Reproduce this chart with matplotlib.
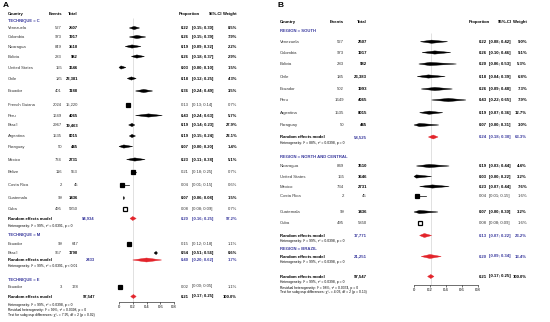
import matplotlib
matplotlib.use("Agg")
import matplotlib.pyplot as plt
from matplotlib.patches import Polygon

plt.rcParams['font.family'] = ['Liberation Sans', 'DejaVu Sans']

BLUE = '#3a3a9e'
RED = '#e3242b'
GREY = '#333333'

# ---------------- panel A : by technique ----------------
a_country = ["Venezuela", "Colombia", "Nicaragua", "Bolivia", "United States", "Chile",
             "Ecuador", "French Guiana", "Peru", "Brazil", "Argentina", "Paraguay",
             "Mexico", "Belize", "Costa Rica", "Guatemala", "Cuba",
             "Ecuador", "Brazil",
             "Ecuador"]
a_group = ["C"] * 17 + ["M"] * 2 + ["E"]
a_events = ["527", "973", "849", "283", "155", "185", "401", "2024", "1649", "2967", "1535",
            "50", "734", "116", "2", "99", "495", "99", "957", "3"]
a_total = ["2507", "1917", "3510", "982", "3646", "23,381", "1188", "15,220", "4065", "19,463",
           "8015", "445", "2731", "553", "45", "1436", "5850", "647", "1790", "178"]
a_prop = [0.22, 0.26, 0.19, 0.26, 0.03, 0.18, 0.36, 0.13, 0.43, 0.19, 0.19, 0.07, 0.23,
          0.21, 0.04, 0.07, 0.08, 0.15, 0.54, 0.02]
a_lo = [0.15, 0.15, 0.09, 0.18, 0.00, 0.12, 0.24, 0.13, 0.24, 0.14, 0.15, 0.00, 0.11,
        0.18, 0.01, 0.06, 0.08, 0.12, 0.51, 0.00]
a_hi = [0.30, 0.39, 0.32, 0.37, 0.10, 0.25, 0.49, 0.14, 0.63, 0.23, 0.24, 0.20, 0.38,
        0.25, 0.15, 0.08, 0.09, 0.18, 0.56, 0.05]
a_weight = ["8.5%", "7.9%", "2.2%", "2.9%", "1.5%", "4.3%", "3.5%", "0.7%", "5.7%", "27.9%",
            "22.1%", "1.4%", "5.1%", "0.7%", "0.6%", "1.5%", "0.7%", "1.1%", "0.6%", "1.1%"]
a_groups = ["C", "M", "E"]
a_group_titles = ["TECHNIQUE = C", "TECHNIQUE = M", "TECHNIQUE = E"]
a_re_n = ["94,934", "2433", None]
a_re_prop = [0.20, 0.40, None]
a_re_lo = [0.16, 0.20, None]
a_re_hi = [0.25, 0.62, None]
a_re_weight = ["97.2%", "1.7%", None]
a_re_het = ["Heterogeneity: I² = 99%, τ² = 0.0391, p = 0",
            "Heterogeneity: I² = 99%, τ² = 0.0391, p < 0.01", None]
a_all = ("97,547", 0.21, 0.17, 0.25, "100.0%")
a_all_text = ["Heterogeneity: I² = 99%, τ² = 0.0398, p = 0",
              "Residual heterogeneity: I² = 99%, τ² = 0.0398, p = 0",
              "Test for subgroup differences: χ²₂ = 7.95, df = 2 (p = 0.02)"]

# ---------------- panel B : by region ----------------
b_country = ["Venezuela", "Colombia", "Bolivia", "Chile", "Ecuador", "Peru", "Argentina",
             "Paraguay",
             "Nicaragua", "United States", "Mexico", "Costa Rica", "Guatemala", "Cuba"]
b_group = ["S"] * 8 + ["N"] * 6
b_events = ["527", "973", "283", "185", "502", "1649", "1535", "50",
            "849", "155", "734", "2", "99", "495"]
b_total = ["2507", "1917", "982", "23,383", "1993", "4065", "8015", "445",
           "3510", "3646", "2731", "45", "1436", "5850"]
b_prop = [0.22, 0.26, 0.20, 0.18, 0.26, 0.43, 0.19, 0.07, 0.19, 0.03, 0.23, 0.04, 0.07, 0.08]
b_lo = [0.08, 0.10, 0.06, 0.04, 0.09, 0.22, 0.07, 0.00, 0.03, 0.00, 0.07, 0.01, 0.00, 0.08]
b_hi = [0.42, 0.46, 0.53, 0.39, 0.48, 0.65, 0.36, 0.31, 0.44, 0.22, 0.44, 0.15, 0.30, 0.09]
b_weight = ["9.0%", "9.1%", "5.3%", "6.8%", "7.3%", "7.9%", "12.7%", "3.0%",
            "4.4%", "3.2%", "7.6%", "1.6%", "3.2%", "1.6%"]
b_groups = ["S", "N", "BR"]
b_group_titles = ["REGION = SOUTH", "REGION = NORTH AND CENTRAL", "REGION = BRAZIL"]
b_re_n = ["58,525", "17,771", "21,251"]
b_re_prop = [0.24, 0.13, 0.20]
b_re_lo = [0.18, 0.07, 0.09]
b_re_hi = [0.30, 0.22, 0.34]
b_re_weight = ["63.3%", "23.2%", "13.4%"]
b_re_het = ["Heterogeneity: I² = 88%, τ² = 0.0398, p = 0",
            "Heterogeneity: I² = 99%, τ² = 0.0398, p = 0",
            "Heterogeneity: I² = 99%, τ² = 0.0398, p = 0"]
b_all = ("97,547", 0.21, 0.17, 0.25, "100.0%")
b_all_text = ["Heterogeneity: I² = 99%, τ² = 0.0398, p = 0",
              "Residual heterogeneity: I² = 98%, τ² = 0.0374, p = 0",
              "Test for subgroup differences: χ²₂ = 4.03, df = 2 (p = 0.13)"]

ticks = [0, 0.2, 0.4, 0.6, 0.8]
tick_labels = ["0", "0.2", "0.4", "0.6", "0.8"]

# layout (pixel rows) and marker styles
lay_a = dict(letter=(3, 5), head=14, x_country=8, x_ev=62, x_tot=78, x_re_n=95, x_prop=189,
             x_ci=192, x_w=237, x_head_prop=179, x_head_ci=222, plot=(119, 174), axis_y=302,
             ref_top=18, fs=3.0, fs_het=2.4, h=1.6,
             titles=[21, 235, 279.5],
             rows=[28, 37, 46.5, 56.5, 67.5, 78.5, 91, 105, 115.5, 125, 136, 146.5, 159.5,
                   171.5, 185, 198, 208.5, 243.5, 253, 286.5],
             re=[218.5, 260, None], het=[225.5, 266, None],
             total=296.5, total_text=[305, 310, 315])
lay_b = dict(letter=(277, 5), head=22, x_country=280, x_ev=344, x_tot=367, x_re_n=367,
             x_prop=487, x_ci=489, x_w=527, x_head_prop=469, x_head_ci=512, plot=(414, 478),
             axis_y=284.5, ref_top=33, fs=3.1, fs_het=2.4, h=1.6,
             titles=[31, 156.5, 248.5],
             rows=[41.7, 52.5, 64, 76.5, 89, 100, 112.7, 125,
                   166, 176.5, 186.5, 196, 212, 223.3],
             re=[137, 235.5, 256.5], het=[142.5, 241, 262],
             total=276.5, total_text=[282.5, 287.5, 292.5])
square_a = {7: 'full', 13: 'full', 14: 'full', 16: 'hollow', 17: 'full', 19: 'full'}
square_b = {11: 'full', 13: 'hollow'}

fig = plt.figure(figsize=(5.5, 3.22), dpi=100)
bg = fig.add_axes([0, 0, 1, 1])
bg.set_xlim(0, 550)
bg.set_ylim(322, 0)
bg.axis('off')


def txt(x, y, s, fs, ha='left', bold=False, color='black'):
    bg.text(x, y, s, fontsize=fs, ha=ha, va='center', color=color,
            fontweight='bold' if bold else 'normal')


def lens(ax, p, lo, hi, y, h, color):
    ax.add_patch(Polygon([(lo, y), (p, y - h), (hi, y), (p, y + h)], closed=True,
                         facecolor=color, edgecolor=color, lw=0.3, clip_on=False))


def panel(letter, L, country, group, events, total, prop, lo, hi, weight, groups, titles,
          re_n, re_p, re_lo, re_hi, re_w, re_het, allrow, all_text, squares):
    fs = L['fs']
    txt(L['letter'][0], L['letter'][1], letter, 6, bold=True)
    txt(L['x_country'], L['head'], "Country", fs, bold=True)
    txt(L['x_ev'], L['head'], "Events", fs, ha='right', bold=True)
    txt(L['x_tot'], L['head'], "Total", fs, ha='right', bold=True)
    txt(L['x_head_prop'], L['head'], "Proportion", fs, bold=True)
    txt(L['x_head_ci'], L['head'], "95%-CI", fs, ha='right', bold=True)
    txt(L['x_w'], L['head'], "Weight", fs, ha='right', bold=True)

    x0, x1 = L['plot']
    yb = L['axis_y']
    ax = fig.add_axes([x0 / 550, (322 - yb) / 322, (x1 - x0) / 550, yb / 322])
    ax.set_xlim(0, 0.8)
    ax.set_ylim(yb, 0)
    ax.patch.set_alpha(0)
    for s in ['top', 'right', 'left']:
        ax.spines[s].set_visible(False)
    ax.spines['bottom'].set_bounds(0, 0.8)
    ax.spines['bottom'].set_linewidth(0.4)
    ax.set_yticks([])
    ax.set_xticks(ticks)
    ax.set_xticklabels(tick_labels)
    ax.tick_params(axis='x', length=1.3, width=0.4, labelsize=fs, pad=1.2)
    ax.vlines(allrow[1], L['ref_top'], yb, color='#d4d4d4', lw=0.5, zorder=0)

    for i in range(len(country)):
        y = L['rows'][i]
        sq = squares.get(i)
        c = GREY if sq else 'black'
        txt(L['x_country'], y, country[i], fs, color=GREY)
        txt(L['x_ev'], y, events[i], fs, ha='right', color=GREY)
        txt(L['x_tot'], y, total[i], fs, ha='right', bold=not sq, color=c)
        txt(L['x_prop'], y, f"{prop[i]:.2f}", fs, ha='right', bold=not sq, color=c)
        txt(L['x_ci'], y, f"[{lo[i]:.2f}; {hi[i]:.2f}]", fs, bold=not sq, color=c)
        txt(L['x_w'], y, weight[i], fs, ha='right', bold=not sq, color=c)
        if sq:
            ax.plot([lo[i], hi[i]], [y, y], color='black', lw=0.5, clip_on=False)
            ax.plot(prop[i], y, marker='s', ms=3.0, color='black',
                    mfc='white' if sq == 'hollow' else 'black', mew=0.9, clip_on=False)
        else:
            lens(ax, prop[i], lo[i], hi[i], y, L['h'], 'black')

    for g in range(len(groups)):
        txt(L['x_country'], L['titles'][g], titles[g], fs, bold=True, color=BLUE)
        if re_n[g] is None:
            continue
        y = L['re'][g]
        txt(L['x_country'], y, "Random effects model", fs, bold=True)
        txt(L['x_re_n'], y, re_n[g], fs, ha='right', bold=True, color=BLUE)
        txt(L['x_prop'], y, f"{re_p[g]:.2f}", fs, ha='right', bold=True, color=BLUE)
        txt(L['x_ci'], y, f"[{re_lo[g]:.2f}; {re_hi[g]:.2f}]", fs, bold=True, color=BLUE)
        txt(L['x_w'], y, re_w[g], fs, ha='right', bold=True, color=BLUE)
        txt(L['x_country'], L['het'][g], re_het[g], L['fs_het'])
        lens(ax, re_p[g], re_lo[g], re_hi[g], y, 2.0, RED)

    y = L['total']
    txt(L['x_country'], y, "Random effects model", fs, bold=True)
    txt(L['x_re_n'], y, allrow[0], fs, ha='right', bold=True)
    txt(L['x_prop'], y, f"{allrow[1]:.2f}", fs, ha='right', bold=True)
    txt(L['x_ci'], y, f"[{allrow[2]:.2f}; {allrow[3]:.2f}]", fs, bold=True)
    txt(L['x_w'], y, allrow[4], fs, ha='right', bold=True)
    lens(ax, allrow[1], allrow[2], allrow[3], y, 2.0, RED)
    for yy, s in zip(L['total_text'], all_text):
        txt(L['x_country'], yy, s, L['fs_het'])


panel("A", lay_a, a_country, a_group, a_events, a_total, a_prop, a_lo, a_hi, a_weight,
      a_groups, a_group_titles, a_re_n, a_re_prop, a_re_lo, a_re_hi, a_re_weight, a_re_het,
      a_all, a_all_text, square_a)
panel("B", lay_b, b_country, b_group, b_events, b_total, b_prop, b_lo, b_hi, b_weight,
      b_groups, b_group_titles, b_re_n, b_re_prop, b_re_lo, b_re_hi, b_re_weight, b_re_het,
      b_all, b_all_text, square_b)

fig.savefig("out.png", dpi=100)
